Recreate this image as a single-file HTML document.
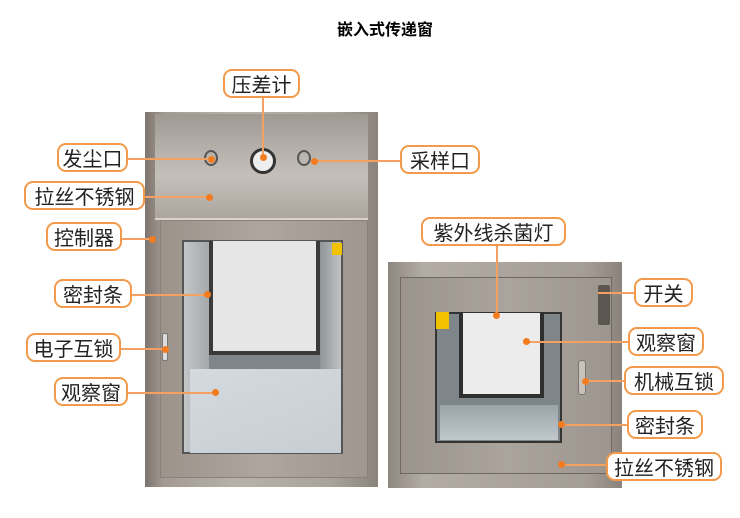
<!DOCTYPE html>
<html><head><meta charset="utf-8"><style>
body{margin:0;width:740px;height:518px;background:#fff;position:relative;overflow:hidden;font-family:"Liberation Sans","Noto Sans CJK SC",sans-serif}
.a{position:absolute;box-sizing:border-box}
.lab{position:absolute;box-sizing:border-box;border:2px solid #f39a4a;border-radius:9px;background:#fff;font-size:20px;color:#222;text-align:center;line-height:25px;font-family:"Noto Sans CJK SC",sans-serif;white-space:nowrap}
.dot{position:absolute;width:7px;height:7px;border-radius:50%;background:#f47c20;margin:-3.5px 0 0 -3.5px}
.h{position:absolute;height:1.5px;background:#f5a060}
.v{position:absolute;width:1.5px;background:#f5a060}
</style></head><body>
<div class="a" style="left:0;top:16px;width:770px;text-align:center;font-size:16px;font-weight:bold;font-family:'Noto Sans CJK SC',sans-serif">嵌入式传递窗</div>

<!-- left cabinet -->
<div class="a" style="left:145px;top:112px;width:233px;height:375px;background:linear-gradient(90deg,#7d756d,#a39b93 8%,#b8b1aa 40%,#aaa39b 80%,#8a837b)"></div>
<div class="a" style="left:155px;top:114px;width:213px;height:104px;background:linear-gradient(180deg,#9e9992,#b9b4ae 40%,#c4bfb9 60%,#aca69f)"></div>
<div class="a" style="left:155px;top:218px;width:213px;height:2px;background:#d8d3cd"></div>
<div class="a" style="left:160px;top:220px;width:208px;height:258px;border:1px solid #8a827a;background:linear-gradient(90deg,#9c948b,#aea69e 50%,#9f978f)"></div>
<div class="a" style="left:182px;top:240px;width:161px;height:214px;background:#9aa0a4;border:2px solid #555"></div>
<div class="a" style="left:184px;top:242px;width:25px;height:210px;background:linear-gradient(90deg,#c4c7c8,#a4a8aa)"></div>
<div class="a" style="left:320px;top:242px;width:21px;height:210px;background:linear-gradient(90deg,#8f9496,#c0c3c4)"></div>
<div class="a" style="left:209px;top:241px;width:111px;height:114px;background:#e6e6e6;border:4px solid #3a3a3a;border-top:none"></div>
<div class="a" style="left:209px;top:355px;width:111px;height:14px;background:#7f8588"></div>
<div class="a" style="left:190px;top:369px;width:151px;height:84px;background:linear-gradient(160deg,#d4dadf,#c6ced4)"></div>
<div class="a" style="left:332px;top:243px;width:10px;height:12px;background:#f2c200"></div>
<div class="a" style="left:162px;top:333px;width:6px;height:28px;background:#ddd;border:1px solid #777;border-radius:2px"></div>
<div class="a" style="left:250px;top:148px;width:26px;height:26px;border-radius:50%;background:#eee;border:3px solid #333"></div>
<div class="a" style="left:204px;top:150px;width:14px;height:16px;border:2px solid #555;border-radius:50%"></div>
<div class="a" style="left:297px;top:150px;width:14px;height:16px;border:2px solid #555;border-radius:50%"></div>

<!-- right cabinet -->
<div class="a" style="left:388px;top:262px;width:234px;height:226px;background:linear-gradient(90deg,#8e877f,#b3aca5 15%,#a49d95 85%,#8a837b)"></div>
<div class="a" style="left:400px;top:277px;width:212px;height:197px;border:1px solid #6f6861;background:linear-gradient(90deg,#9b948c,#aba49c 50%,#9d968e)"></div>
<div class="a" style="left:435px;top:312px;width:127px;height:131px;background:#7f868a;border:2px solid #333"></div>
<div class="a" style="left:459px;top:313px;width:85px;height:85px;background:#ececec;border:4px solid #2f2f2f;border-top:none"></div>
<div class="a" style="left:440px;top:405px;width:118px;height:35px;background:linear-gradient(180deg,#9aa3a8,#c0c8cd)"></div>
<div class="a" style="left:436px;top:312px;width:13px;height:17px;background:#f2c200"></div>
<div class="a" style="left:598px;top:285px;width:12px;height:40px;background:#5b5650;border-radius:2px"></div>
<div class="a" style="left:578px;top:360px;width:8px;height:35px;background:#c8c2bb;border:1px solid #777;border-radius:3px"></div>

<!-- connectors -->
<div class="v" style="left:262px;top:97px;height:60px"></div>
<div class="h" style="left:127px;top:158px;width:84px"></div>
<div class="h" style="left:145px;top:196px;width:64px"></div>
<div class="h" style="left:122px;top:238px;width:30px"></div>
<div class="h" style="left:132px;top:294px;width:75px"></div>
<div class="h" style="left:121px;top:348px;width:44px"></div>
<div class="h" style="left:128px;top:392px;width:87px"></div>
<div class="h" style="left:314px;top:160px;width:88px"></div>
<div class="v" style="left:496px;top:245px;height:70px"></div>
<div class="h" style="left:598px;top:292px;width:36px"></div>
<div class="h" style="left:526px;top:341px;width:102px"></div>
<div class="h" style="left:585px;top:380px;width:40px"></div>
<div class="h" style="left:561px;top:424px;width:66px"></div>
<div class="h" style="left:561px;top:464px;width:45px"></div>

<div class="dot" style="left:263px;top:157px"></div>
<div class="dot" style="left:211px;top:159px"></div>
<div class="dot" style="left:209px;top:197px"></div>
<div class="dot" style="left:152px;top:239px"></div>
<div class="dot" style="left:207px;top:294px"></div>
<div class="dot" style="left:165px;top:349px"></div>
<div class="dot" style="left:215px;top:392px"></div>
<div class="dot" style="left:314px;top:161px"></div>
<div class="dot" style="left:496px;top:315px"></div>
<div class="dot" style="left:526px;top:341px"></div>
<div class="dot" style="left:585px;top:381px"></div>
<div class="dot" style="left:561px;top:424px"></div>
<div class="dot" style="left:561px;top:464px"></div>

<!-- labels -->
<div class="lab" style="left:223px;top:69px;width:77px;height:29px">压差计</div>
<div class="lab" style="left:57px;top:143px;width:71px;height:29px">发尘口</div>
<div class="lab" style="left:24px;top:181px;width:121px;height:29px">拉丝不锈钢</div>
<div class="lab" style="left:46px;top:222px;width:76px;height:29px">控制器</div>
<div class="lab" style="left:54px;top:279px;width:78px;height:29px">密封条</div>
<div class="lab" style="left:26px;top:333px;width:95px;height:29px">电子互锁</div>
<div class="lab" style="left:54px;top:377px;width:74px;height:29px">观察窗</div>
<div class="lab" style="left:400px;top:145px;width:80px;height:29px">采样口</div>
<div class="lab" style="left:421px;top:217px;width:145px;height:29px">紫外线杀菌灯</div>
<div class="lab" style="left:634px;top:278px;width:59px;height:29px">开关</div>
<div class="lab" style="left:628px;top:327px;width:76px;height:29px">观察窗</div>
<div class="lab" style="left:624px;top:366px;width:100px;height:29px">机械互锁</div>
<div class="lab" style="left:627px;top:410px;width:76px;height:29px">密封条</div>
<div class="lab" style="left:606px;top:452px;width:116px;height:29px">拉丝不锈钢</div>
</body></html>
